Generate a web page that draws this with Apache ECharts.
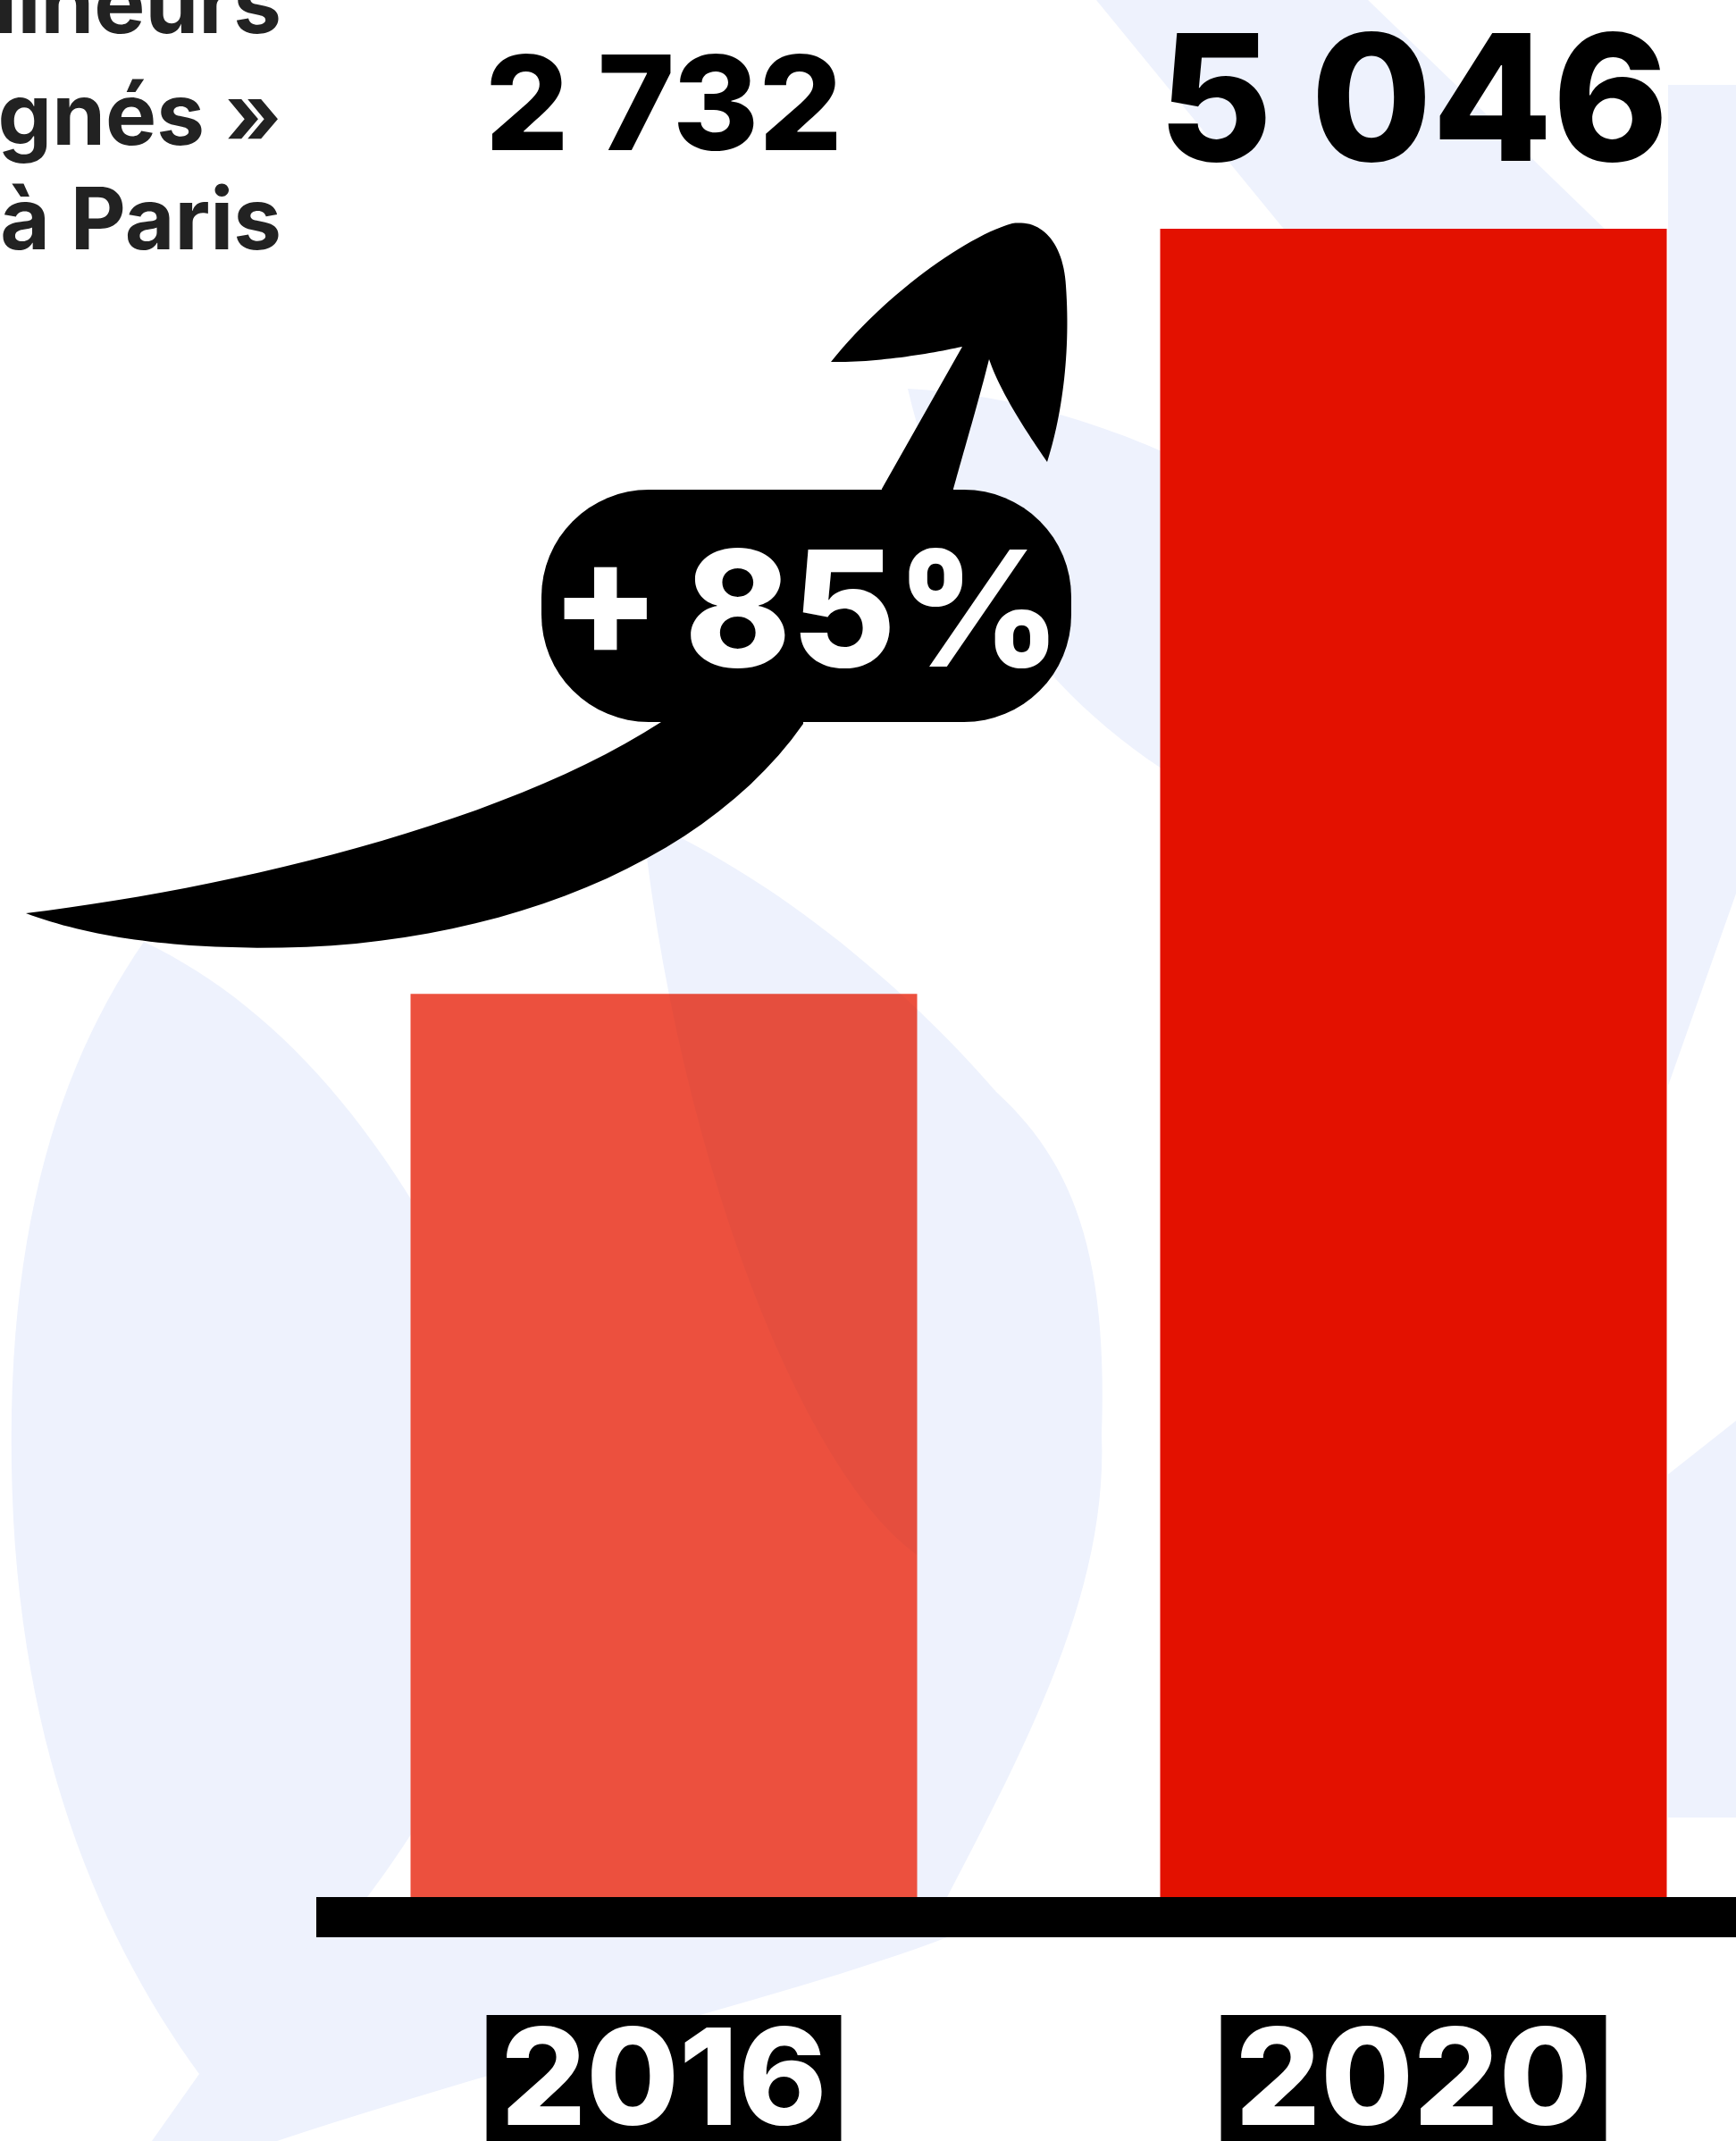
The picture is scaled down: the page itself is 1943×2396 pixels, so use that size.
<!DOCTYPE html>
<html><head><meta charset="utf-8">
<script src="https://cdn.jsdelivr.net/npm/echarts@6/dist/echarts.min.js"></script>
<style>html,body{margin:0;padding:0;background:#fff}#c{width:1943px;height:2396px}</style>
</head><body><div id="c"></div>
<script>
// ---- data ----
const years = ['2016', '2020'];
const counts = [2732, 5046];
const barColors = ['#ec503e', '#e31100'];
const titleLines = ['Mineurs', '« non accompagnés »', 'à Paris'];
const yMax = 5200;

const FONT = 'Inter';
const BAR_W = 567;
function fmt(n){ return String(n).replace(/\B(?=(\d{3})+(?!\d))/g, ' '); }
const growth = Math.round((counts[1] / counts[0] - 1) * 100);

// sample a path of lines / cubic beziers into polygon points (decoration only)
function sampled(start, segs){
  const pts = [start]; let p = start;
  segs.forEach(s => {
    if (s.length === 1) { pts.push(s[0]); p = s[0]; return; }
    const [c1, c2, e] = s;
    for (let i = 1; i <= 28; i++) {
      const t = i / 28, u = 1 - t;
      pts.push([
        u*u*u*p[0] + 3*u*u*t*c1[0] + 3*u*t*t*c2[0] + t*t*t*e[0],
        u*u*u*p[1] + 3*u*u*t*c1[1] + 3*u*t*t*c2[1] + t*t*t*e[1]
      ]);
    }
    p = e;
  });
  return pts;
}
// clip polygon to rectangle (Sutherland-Hodgman)
function clipRect(poly, x0, y0, x1, y1){
  const edges = [
    [p => p[0] >= x0, (a, b) => { const t = (x0 - a[0]) / (b[0] - a[0]); return [x0, a[1] + t * (b[1] - a[1])]; }],
    [p => p[0] <= x1, (a, b) => { const t = (x1 - a[0]) / (b[0] - a[0]); return [x1, a[1] + t * (b[1] - a[1])]; }],
    [p => p[1] >= y0, (a, b) => { const t = (y0 - a[1]) / (b[1] - a[1]); return [a[0] + t * (b[0] - a[0]), y0]; }],
    [p => p[1] <= y1, (a, b) => { const t = (y1 - a[1]) / (b[1] - a[1]); return [a[0] + t * (b[0] - a[0]), y1]; }]
  ];
  let out = poly;
  edges.forEach(([inside, inter]) => {
    const inp = out; out = [];
    for (let i = 0; i < inp.length; i++) {
      const cur = inp[i], prev = inp[(i + inp.length - 1) % inp.length];
      if (inside(cur)) { if (!inside(prev)) out.push(inter(prev, cur)); out.push(cur); }
      else if (inside(prev)) out.push(inter(prev, cur));
    }
  });
  return out;
}

const WM = '#eef2fd';
const lens = sampled([719,917], [[[760,1300],[900,1650],[1026,1740]], [[1026,2123]], [[1060,2123]], [[1150,1950],[1240,1780],[1233,1605]], [[1240,1400],[1200,1300],[1115,1222]], [[1000,1090],[860,980],[719,917]]]);
const bgShapes = [
  sampled([161,1054], [[[60,1200],[0,1400],[15,1700]], [[30,1980],[120,2180],[223,2321]], [[330,2230],[430,2120],[520,1950]], [[520,1450]], [[420,1250],[300,1120],[161,1054]]]),
  [[1227,0],[1531,0],[1800,260],[1440,260]],
  sampled([1016,435], [[[1120,440],[1220,470],[1300,505]], [[1300,860]], [[1150,760],[1060,620],[1016,435]]]),
  [[1867,95],[1943,95],[1943,1000],[1867,1215]],
  [[1867,1650],[1943,1590],[1943,2034],[1867,2034]],
  sampled([354,2168], [[[1060,2168]], [[900,2230],[600,2300],[310,2396]], [[170,2396]], [[223,2321]], [[270,2260],[320,2210],[354,2168]]]),
  lens
];

const tail = sampled([29,1022], [[[250,995],[560,925],[740,808]], [[760,760]], [[899,760]], [[899,810]], [[780,980],[520,1070],[260,1060]], [[170,1058],[90,1045],[29,1022]]]);
const head = sampled([980,600], [[[987,547]], [[1077,388]], [[1040,396],[980,406],[930,405]], [[990,330],[1080,265],[1133,250]], [[1165,245],[1190,270],[1193,320]], [[1198,390],[1190,460],[1172,517]], [[1150,485],[1120,440],[1107,402]], [[1095,450],[1080,500],[1067,547]], [[1070,600]]]);

function buildGraphic(overlay){
  const g = [];
  bgShapes.forEach(pts => g.push({type:'polygon', z:-10, silent:true, shape:{points:pts}, style:{fill:WM}}));
  if (overlay && overlay.length > 2) g.push({type:'polygon', z:50, silent:true, shape:{points:overlay}, style:{fill:'#f8f9fe', blend:'multiply'}});
  g.push({type:'polygon', z:60, silent:true, shape:{points:tail}, style:{fill:'#000'}});
  g.push({type:'polygon', z:60, silent:true, shape:{points:head}, style:{fill:'#000'}});
  g.push({type:'rect', z:61, silent:true, shape:{x:606, y:548, width:593, height:260, r:120}, style:{fill:'#000'}});
  g.push({type:'text', z:62, silent:true, style:{text:'+\u2009' + growth + '%', x:902, y:692, align:'center', verticalAlign:'middle', fill:'#fff', fontFamily:FONT, fontWeight:800, fontSize:180}});
  const titleY = [8, 133, 250];
  titleLines.forEach((t, i) => g.push({type:'text', z:62, silent:true, style:{text:t, x:315, y:titleY[i], align:'right', verticalAlign:'middle', fill:'#222', fontFamily:FONT, fontWeight:700, fontSize:96}}));
  return g;
}

const chart = echarts.init(document.getElementById('c'), null, {renderer:'canvas'});
chart.setOption({
  backgroundColor: '#fff',
  animation: false,
  grid: [
    {left: 323.5, right: -58.5, top: 199, bottom: 273, containLabel:false, outerBoundsMode:'none'},
    {left: 354, right: 0, top: 2000, bottom: 250.5, containLabel:false, outerBoundsMode:'none'},
    {left: 323.5, right: -58.5, top: 230, height: 20, containLabel:false, outerBoundsMode:'none'}
  ],
  xAxis: [
    {type:'category', gridIndex:0, data: years,
     axisLine:{show:false}, axisTick:{show:false},
     axisLabel:{interval:0, margin:132, color:'#fff', fontFamily:FONT, fontWeight:800, fontSize:150, lineHeight:140,
                backgroundColor:'#000', padding:[8,16,30,16]}},
    {type:'value', gridIndex:1, min:0, max:1,
     axisLine:{show:true, onZero:false, lineStyle:{color:'#000', width:45, cap:'butt'}},
     axisTick:{show:false}, axisLabel:{show:false}, splitLine:{show:false}},
    {type:'category', gridIndex:2, position:'top', data: counts.map(fmt),
     axisLine:{show:false}, axisTick:{show:false},
     axisLabel:{interval:0, margin:0,
       formatter:(v, i) => (i === 0 ? '{a|' : '{b|') + v + '}',
       rich:{
         a:{fontFamily:FONT, fontWeight:800, fontSize:147, lineHeight:147, color:'#000', padding:[0,0,66,0]},
         b:{fontFamily:FONT, fontWeight:800, fontSize:196, lineHeight:196, color:'#000', padding:[0,0,22,0]}
       }}}
  ],
  yAxis: [
    {type:'value', gridIndex:0, min:0, max:yMax, show:false},
    {type:'value', gridIndex:1, show:false},
    {type:'value', gridIndex:2, show:false}
  ],
  series: [{
    type:'bar', xAxisIndex:0, yAxisIndex:0, barWidth:BAR_W, z:5,
    data: counts.map((v, i) => ({value:v, itemStyle:{color:barColors[i]}}))
  }],
  graphic: buildGraphic(null)
});
// tint of the watermark seen through the first bar: clip the lens to that bar's rectangle
const pTop = chart.convertToPixel({xAxisIndex:0, yAxisIndex:0}, [0, counts[0]]);
const pBot = chart.convertToPixel({xAxisIndex:0, yAxisIndex:0}, [0, 0]);
const overlay = clipRect(lens, pTop[0] - BAR_W / 2, pTop[1], pTop[0] + BAR_W / 2, pBot[1]);
chart.setOption({graphic: buildGraphic(overlay)}, {replaceMerge:['graphic']});
</script></body></html>
